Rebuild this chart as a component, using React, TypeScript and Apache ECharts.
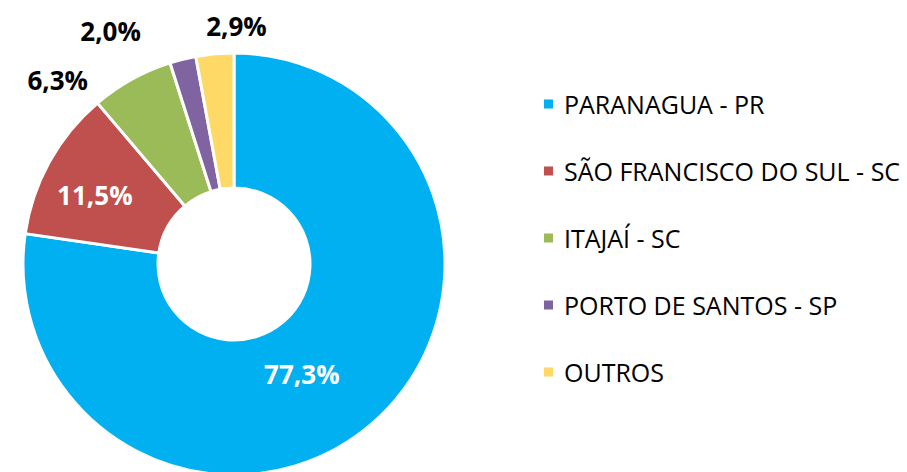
import React, { useEffect, useRef } from "react";
import * as echarts from "echarts";

const categories = [
  "PARANAGUA - PR",
  "SÃO FRANCISCO DO SUL - SC",
  "ITAJAÍ - SC",
  "PORTO DE SANTOS - SP",
  "OUTROS",
];
const shares = [77.3, 11.5, 6.3, 2.0, 2.9];
const colors = ["#00B0F0", "#C0504D", "#9BBB59", "#8064A2", "#FFD966"];
const insideLabel = [true, true, false, false, false];
const labelNudge: [number, number][] = [
  [-28, -1],
  [-11, 2],
  [-33, 11],
  [-34, -17],
  [58, -16],
];

export default function App() {
  const ref = useRef<HTMLDivElement>(null);
  useEffect(() => {
    document.body.style.margin = "0";
    const chart = echarts.init(ref.current!, null, { renderer: "svg" });
    const fmt = (v: number) => v.toFixed(1).replace(".", ",") + "%";
    chart.setOption({
      animation: false,
      backgroundColor: "#ffffff",
      legend: {
        orient: "vertical",
        left: 537,
        top: 84,
        itemWidth: 11,
        itemHeight: 11,
        itemGap: 37,
        icon: "rect",
        data: categories,
        textStyle: {
          fontFamily: "Open Sans",
          fontSize: 25,
          lineHeight: 30,
          color: "#000",
          padding: [0, 0, 0, 5],
        },
      },
      series: [
        {
          type: "pie",
          center: [234, 264],
          radius: [76, 211],
          startAngle: 90,
          clockwise: true,
          avoidLabelOverlap: false,
          itemStyle: { borderColor: "#ffffff", borderWidth: 3 },
          labelLine: { show: false, length: 12, length2: 0 },
          labelLayout: (p: any) => {
            const n = labelNudge[p.dataIndex];
            return { dx: n[0], dy: n[1] };
          },
          data: categories.map((c, i) => ({
            name: c,
            value: shares[i],
            itemStyle: { color: colors[i] },
            label: {
              show: true,
              position: insideLabel[i] ? "inside" : "outside",
              formatter: fmt(shares[i]),
              color: insideLabel[i] ? "#ffffff" : "#000000",
              fontFamily: "Open Sans",
              fontWeight: "bold",
              fontSize: 26,
            },
          })),
        },
      ],
    });
    return () => chart.dispose();
  }, []);
  return <div ref={ref} style={{ width: 907, height: 472 }} />;
}
